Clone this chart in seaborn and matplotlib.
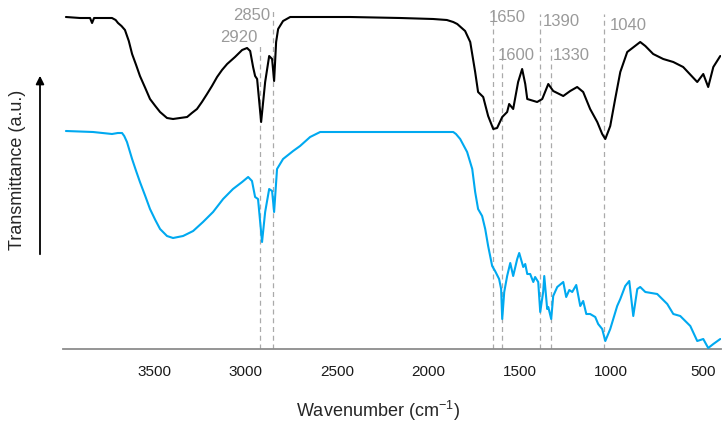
import numpy as np
import pandas as pd
import seaborn as sns
import matplotlib
matplotlib.use("Agg")
import matplotlib.pyplot as plt

# top spectrum (black), wavenumber in cm-1 and transmittance in a.u.
black_wn = [3984, 3907, 3852, 3841, 3830, 3732, 3712, 3699, 3680, 3661, 3640, 3622, 3600, 3579,
            3550, 3524, 3495, 3469, 3431, 3398, 3360, 3321, 3295, 3267, 3240, 3212, 3185, 3157,
            3130, 3102, 3059, 3020, 2993, 2976, 2960, 2949, 2938, 2916, 2894, 2872, 2856, 2845,
            2834, 2823, 2796, 2757, 2429, 2155, 1975, 1900, 1865, 1843, 1800, 1772, 1745, 1729,
            1701, 1674, 1646, 1625, 1597, 1570, 1559, 1537, 1510, 1488, 1471, 1460, 1406, 1378,
            1345, 1318, 1263, 1225, 1187, 1154, 1116, 1077, 1050, 1033, 1006, 979, 951, 913,
            842, 814, 771, 716, 661, 607, 530, 497, 470, 442, 404]
black_t = [332, 331, 331, 326, 331, 331, 329, 326, 323, 319, 308, 295, 284, 273,
           261, 250, 243, 237, 231, 230, 231, 232, 236, 240, 247, 255, 263, 272,
           279, 285, 292, 299, 301, 298, 282, 273, 270, 227, 267, 293, 290, 268,
           307, 320, 328, 332, 332, 331, 330, 329, 327, 325, 318, 307, 277, 257,
           252, 233, 220, 221, 232, 237, 245, 240, 267, 280, 265, 250, 247, 250,
           265, 258, 253, 258, 262, 257, 240, 227, 215, 210, 223, 250, 277, 297,
           307, 303, 295, 290, 287, 282, 267, 275, 262, 282, 293]

# bottom spectrum (blue)
blue_wn = [3984, 3836, 3732, 3700, 3677, 3665, 3650, 3622, 3600, 3579, 3550, 3524, 3495, 3469,
           3431, 3398, 3343, 3288, 3234, 3179, 3124, 3070, 3020, 2987, 2966, 2949, 2933, 2911,
           2894, 2872, 2856, 2845, 2829, 2796, 2741, 2703, 2648, 2593, 2155, 1865, 1850, 1827,
           1789, 1761, 1745, 1729, 1707, 1690, 1674, 1652, 1636, 1614, 1603, 1597, 1586, 1570,
           1553, 1537, 1515, 1504, 1482, 1471, 1460, 1444, 1427, 1417, 1400, 1389, 1373, 1367,
           1351, 1345, 1329, 1318, 1296, 1263, 1247, 1230, 1214, 1192, 1170, 1154, 1137, 1116,
           1088, 1072, 1050, 1033, 1006, 968, 951, 924, 902, 880, 858, 842, 814, 749, 694, 661,
           623, 568, 530, 497, 470, 442, 404]
blue_t = [218, 217, 215, 216, 216, 213, 207, 190, 178, 167, 153, 140, 129, 120,
          113, 111, 113, 118, 127, 137, 150, 160, 167, 172, 168, 152, 150, 107,
          137, 160, 158, 137, 180, 190, 198, 203, 212, 217, 217, 217, 215, 210,
          197, 180, 157, 140, 133, 120, 103, 83, 78, 70, 60, 30, 57, 73,
          86, 73, 90, 96, 82, 85, 75, 75, 67, 72, 67, 37, 57, 73,
          40, 42, 30, 53, 62, 67, 52, 59, 57, 64, 43, 48, 35, 35,
          32, 25, 20, 8, 20, 43, 50, 63, 68, 33, 60, 62, 57, 55, 45, 35,
          33, 23, 8, 10, 1, 5, 10]

peaks = [2920, 2850, 1650, 1600, 1390, 1330, 1040]
peak_labels = ["2920", "2850", "1650", "1600", "1390", "1330", "1040"]
line_tops = [305, 340, 340, 300, 335, 300, 335]
label_y = [312, 335, 332, 295, 329, 295, 325]
label_side = ["right", "right", "left", "left", "left", "left", "left"]
label_dx = [-2, -2, -3, -3, 2, 1, 4]

sns.set_style("white")
plt.rcParams['font.family'] = ['Liberation Sans', 'DejaVu Sans']
plt.rcParams['mathtext.default'] = 'regular'
plt.rcParams['axes.unicode_minus'] = False

fig = plt.figure(figsize=(7.26, 4.27), dpi=100)
ax = fig.add_axes([63 / 726, 77 / 427, 658 / 726, 350 / 427])

df_black = pd.DataFrame({'wn': black_wn, 't': black_t})
df_blue = pd.DataFrame({'wn': blue_wn, 't': blue_t})

ax.vlines(peaks, 0, line_tops, colors='#aaaaaa', linestyles=(0, (4, 3)), linewidth=0.9, zorder=1)

sns.lineplot(data=df_black, x='wn', y='t', color='black', linewidth=1.5, ax=ax, zorder=3)
sns.lineplot(data=df_blue, x='wn', y='t', color='#00a9f0', linewidth=1.5, ax=ax, zorder=3)

for p, lab, y, side, dx in zip(peaks, peak_labels, label_y, label_side, label_dx):
    ax.annotate(lab, xy=(p, y), xytext=(dx, 0), textcoords='offset points',
                ha=side, va='center', fontsize=12, color='#9a9a9a')

ax.set_xlim(4000, 400)
ax.set_ylim(0, 350)
ax.set_xticks([3500, 3000, 2500, 2000, 1500, 1000, 500])
ax.set_yticks([])
ax.set_xlabel('')
ax.set_ylabel('')
for s in ['left', 'top', 'right']:
    ax.spines[s].set_visible(False)
ax.spines['bottom'].set_color('#8c8c8c')
ax.spines['bottom'].set_linewidth(1.3)
ax.tick_params(axis='x', direction='out', length=5, width=1.1, color='#8c8c8c',
               labelsize=11, labelcolor='#1a1a1a', pad=6)

fig.text(378 / 726, 1 - 411 / 427, 'Wavenumber (cm$^{-1}$)', ha='center', va='center', fontsize=13)
fig.text(18 / 726, 1 - 170 / 427, 'Transmittance (a.u.)', rotation=90, ha='center', va='center', fontsize=13)

ax.annotate('', xy=(40 / 726, 1 - 74 / 427), xytext=(40 / 726, 1 - 258 / 427),
            xycoords='figure fraction', textcoords='figure fraction',
            arrowprops=dict(arrowstyle='-|>', color='black', lw=1.3, mutation_scale=12))

fig.savefig('out.png', dpi=100)
